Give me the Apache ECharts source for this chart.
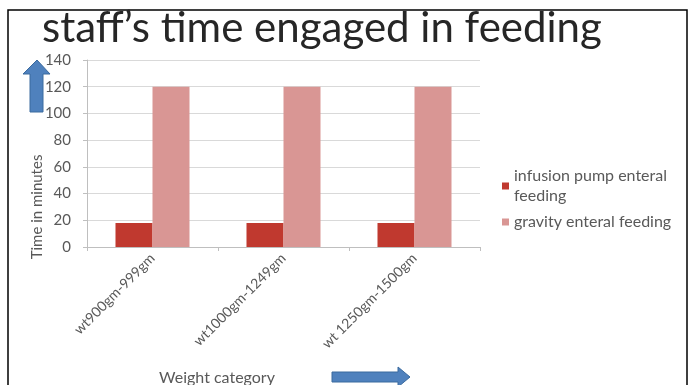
<!DOCTYPE html>
<html>
<head>
<meta charset="utf-8">
<script src="https://cdn.jsdelivr.net/npm/echarts@6/dist/echarts.min.js"></script>
<style>
  html, body { margin: 0; padding: 0; background: #fff; }
  #chart { width: 694px; height: 385px; }
</style>
</head>
<body>
<div id="chart"></div>
<script>
// Weight categories and feeding time (minutes) per feeding method
const categories = ['wt900gm-999gm', 'wt1000gm-1249gm', 'wt 1250gm-1500gm'];
const infusionPump = [18, 18, 18];
const gravity = [120, 120, 120];
const seriesNames = ['infusion pump enteral\nfeeding', 'gravity enteral feeding'];
const yTicks = [0, 20, 40, 60, 80, 100, 120, 140];

const FONT = 'Lato, "Open Sans", sans-serif';
const grey = '#595959';

const chart = echarts.init(document.getElementById('chart'), null, { renderer: 'canvas' });

chart.setOption({
  backgroundColor: '#ffffff',
  animation: false,
  title: {
    text: 'staff\u2019s time engaged in feeding',
    left: 37,
    top: 2,
    textStyle: { fontFamily: FONT, fontSize: 42, fontWeight: 'normal', color: '#262626' }
  },
  legend: {
    orient: 'vertical',
    left: 497,
    top: 161,
    itemWidth: 7,
    itemHeight: 7,
    itemGap: 6,
    icon: 'rect',
    textStyle: { fontFamily: FONT, fontSize: 16, color: grey, lineHeight: 20 },
    data: seriesNames
  },
  grid: { left: 87, top: 60, width: 393, height: 187, containLabel: false },
  xAxis: {
    type: 'category',
    data: categories,
    axisLine: { lineStyle: { color: '#bfbfbf' } },
    axisTick: { show: true, length: 4, lineStyle: { color: '#bfbfbf' } },
    axisLabel: {
      rotate: 45, fontFamily: FONT, fontSize: 14, color: grey, margin: 9
    }
  },
  yAxis: {
    type: 'value',
    min: yTicks[0],
    max: yTicks[yTicks.length - 1],
    interval: 20,
    axisLine: { show: true, lineStyle: { color: '#bfbfbf' } },
    axisTick: { show: true, length: 4, inside: false, lineStyle: { color: '#bfbfbf' } },
    axisLabel: { fontFamily: FONT, fontSize: 15, color: grey, margin: 16 },
    splitLine: { lineStyle: { color: '#d9d9d9' } }
  },
  series: [
    {
      name: seriesNames[0],
      type: 'bar',
      data: infusionPump,
      barGap: '0%',
      barCategoryGap: '43.5%',
      itemStyle: { color: '#c0392f' }
    },
    {
      name: seriesNames[1],
      type: 'bar',
      data: gravity,
      barGap: '0%',
      barCategoryGap: '43.5%',
      itemStyle: { color: '#d99694' }
    }
  ],
  graphic: [
    // frame
    { type: 'polyline', shape: { points: [[8, 385], [8, 10], [687, 10], [687, 385]] },
      style: { stroke: '#000', lineWidth: 1.5, fill: null } },
    // y-axis title
    { type: 'text', x: 37, y: 207, rotation: Math.PI / 2,
      style: { text: 'Time in minutes', fontFamily: FONT, fontSize: 15, fill: grey,
               align: 'center', verticalAlign: 'middle' } },
    // x-axis title
    { type: 'text', x: 217, y: 378,
      style: { text: 'Weight category', fontFamily: FONT, fontSize: 16, fill: grey,
               align: 'center', verticalAlign: 'middle' } },
    // up arrow beside the value axis
    { type: 'polygon',
      shape: { points: [[37, 60], [50, 74], [43, 74], [43, 112], [30, 112], [30, 74], [23, 74]] },
      style: { fill: '#4f81bd', stroke: '#3a6a9e', lineWidth: 1 } },
    // right arrow beside the category axis title
    { type: 'polygon',
      shape: { points: [[332, 372], [398, 372], [398, 367], [410, 377], [398, 387], [398, 382], [332, 382]] },
      style: { fill: '#4f81bd', stroke: '#3a6a9e', lineWidth: 1 } }
  ]
});
</script>
</body>
</html>
